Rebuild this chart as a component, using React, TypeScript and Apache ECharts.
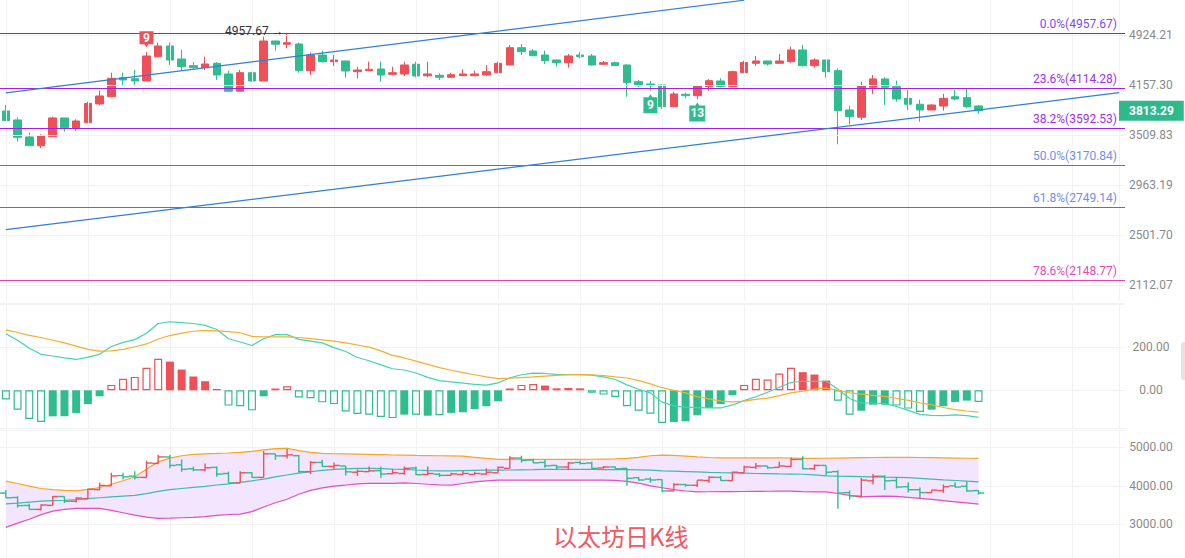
import React, { useEffect, useRef } from 'react';
import * as echarts from 'echarts';

// ---------- data ----------
const categories = Array.from({ length: 96 }, (_, i) => `D${i + 1}`);

// [open, close, low, high]
const ethDaily: number[][] = [
  [3810, 3687, 3683, 3888], [3696, 3485, 3434, 3730], [3489, 3387, 3387, 3541], [3387, 3501, 3358, 3521],
  [3492, 3721, 3492, 3738], [3721, 3600, 3553, 3721], [3597, 3683, 3564, 3704], [3662, 3910, 3654, 3932],
  [3902, 4009, 3884, 4082], [3999, 4256, 3999, 4338], [4265, 4232, 4161, 4338], [4251, 4218, 4161, 4378],
  [4218, 4591, 4218, 4651], [4580, 4749, 4570, 4804], [4749, 4529, 4453, 4804], [4544, 4428, 4363, 4685],
  [4443, 4413, 4378, 4498], [4413, 4468, 4378, 4580], [4478, 4304, 4232, 4498], [4319, 4074, 4074, 4368],
  [4074, 4338, 4074, 4378], [4338, 4218, 4208, 4353], [4218, 4830, 4218, 4901], [4830, 4777, 4674, 4830],
  [4777, 4803, 4712, 4957.67], [4781, 4368, 4338, 4803], [4368, 4606, 4304, 4643], [4606, 4503, 4488, 4674],
  [4503, 4529, 4438, 4606], [4514, 4363, 4265, 4514], [4353, 4378, 4256, 4427], [4368, 4388, 4368, 4503],
  [4393, 4304, 4208, 4503], [4314, 4338, 4304, 4427], [4319, 4453, 4290, 4503], [4463, 4290, 4271, 4503],
  [4294, 4319, 4271, 4503], [4300, 4271, 4232, 4329], [4271, 4309, 4271, 4338], [4294, 4319, 4290, 4388],
  [4294, 4319, 4290, 4368], [4304, 4353, 4290, 4453], [4338, 4478, 4338, 4503], [4453, 4722, 4453, 4765],
  [4722, 4659, 4606, 4781], [4669, 4595, 4591, 4701], [4606, 4518, 4468, 4674], [4529, 4488, 4427, 4539],
  [4488, 4591, 4413, 4622], [4606, 4580, 4555, 4649], [4591, 4453, 4443, 4622], [4463, 4488, 4453, 4514],
  [4488, 4443, 4443, 4503], [4453, 4194, 3999, 4463], [4208, 4151, 4129, 4232], [4175, 4151, 4082, 4218],
  [4161, 3866, 3832, 4161], [3866, 4036, 3866, 4068], [4032, 4013, 3977, 4054], [4013, 4147, 3968, 4147],
  [4137, 4222, 4082, 4246], [4218, 4137, 4129, 4256], [4137, 4353, 4129, 4368], [4338, 4490, 4338, 4518],
  [4478, 4514, 4438, 4591], [4514, 4468, 4443, 4514], [4478, 4514, 4478, 4622], [4503, 4685, 4488, 4738],
  [4685, 4443, 4428, 4765], [4443, 4529, 4413, 4555], [4529, 4353, 4265, 4529], [4368, 3814, 3403, 4403],
  [3823, 3738, 3640, 3875], [3730, 4147, 3696, 4207], [4129, 4247, 4036, 4304], [4247, 4129, 3888, 4271],
  [4137, 3968, 3932, 4222], [3977, 3898, 3823, 4091], [3898, 3823, 3674, 3959], [3823, 3888, 3823, 3898],
  [3875, 3977, 3814, 4036], [3999, 3968, 3955, 4091], [3986, 3866, 3845, 4115], [3875, 3813.29, 3772, 3888],
];

const macdHist = [
  -43, -90, -133, -147, -121, -121, -105, -64, -28, 25, 53, 62, 104, 146, 133, 96, 64, 42, 6, -71,
  -74, -93, -28, 8, 19, -33, -37, -56, -64, -98, -110, -113, -124, -129, -113, -113, -118, -116, -105, -102,
  -87, -74, -51, 8, 25, 29, 22, 9, 11, 9, -12, -20, -31, -74, -95, -109, -152, -147, -144, -116,
  -82, -64, -23, 25, 53, 50, 78, 104, 84, 73, 45, -48, -113, -95, -67, -67, -71, -85, -101, -90,
  -74, -54, -48, -54,
];
const macdHollow = [
  1, 1, 1, 1, 0, 0, 0, 0, 0, 1, 1, 1, 1, 1, 0, 0, 0, 0, 0, 1,
  1, 1, 0, 0, 1, 1, 1, 1, 1, 1, 1, 1, 1, 1, 0, 1, 0, 1, 0, 0,
  0, 0, 0, 0, 1, 1, 0, 0, 1, 0, 1, 1, 1, 1, 1, 1, 1, 0, 0, 0,
  0, 0, 0, 1, 1, 1, 1, 1, 0, 0, 0, 1, 1, 0, 0, 0, 1, 1, 1, 0,
  0, 0, 0, 1,
];
const macdDif = [
  262, 232, 195, 167, 159, 150, 143, 154, 167, 203, 222, 235, 265, 310, 318, 314, 310, 301, 282, 239,
  224, 208, 239, 258, 258, 236, 228, 220, 198, 180, 152, 137, 118, 100, 94, 80, 60, 45, 39, 33,
  27, 24, 34, 58, 72, 80, 78, 74, 73, 73, 70, 62, 50, 25, 5, -12, -55, -72, -78, -80,
  -82, -82, -68, -48, -30, -9, 14, 36, 42, 42, 42, 5, -38, -59, -59, -62, -75, -93, -112, -116,
  -118, -114, -118, -126,
];
const macdDea = [
  280, 268, 255, 245, 232, 220, 205, 190, 182, 183, 190, 202, 215, 238, 254, 265, 274, 278, 276, 272,
  267, 250, 248, 248, 248, 245, 240, 234, 228, 220, 210, 200, 183, 162, 150, 135, 120, 105, 93, 82,
  72, 62, 54, 56, 59, 62, 66, 69, 72, 73, 72, 68, 62, 57, 45, 30, 12, 0, -12, -30,
  -40, -50, -54, -50, -42, -36, -25, -12, -4, 5, 10, 0, -12, -18, -24, -28, -37, -47, -58, -68,
  -80, -90, -96, -101,
];

const bollUpper = [
  4120, 4060, 3990, 3930, 3900, 3880, 3870, 3905, 3955, 4040, 4130, 4234, 4430, 4623, 4720, 4780, 4815, 4830, 4840, 4852,
  4870, 4895, 4935, 4965, 4970, 4915, 4870, 4840, 4832, 4828, 4824, 4818, 4810, 4800, 4797, 4790, 4785, 4780, 4775, 4771,
  4740, 4710, 4686, 4686, 4686, 4686, 4686, 4686, 4686, 4688, 4690, 4695, 4700, 4711, 4740, 4780, 4797, 4790, 4770, 4750,
  4735, 4727, 4727, 4727, 4726, 4725, 4724, 4722, 4711, 4711, 4715, 4720, 4725, 4730, 4735, 4737, 4737, 4737, 4735, 4730,
  4725, 4720, 4715, 4711,
];
const bollMid = [
  3530, 3550, 3575, 3600, 3615, 3625, 3640, 3665, 3690, 3710, 3730, 3751, 3795, 3855, 3900, 3930, 3960, 3985, 4020, 4050,
  4090, 4130, 4175, 4230, 4280, 4330, 4365, 4400, 4426, 4440, 4450, 4452, 4445, 4432, 4426, 4410, 4395, 4390, 4390, 4395,
  4400, 4405, 4408, 4410, 4415, 4420, 4426, 4426, 4426, 4426, 4424, 4422, 4420, 4418, 4415, 4405, 4390, 4380, 4370, 4360,
  4350, 4342, 4336, 4328, 4320, 4314, 4308, 4305, 4300, 4285, 4260, 4250, 4245, 4238, 4230, 4222, 4218, 4210, 4195, 4175,
  4155, 4138, 4120, 4104,
];
const bollLower = [
  2920, 3030, 3130, 3250, 3343, 3390, 3413, 3413, 3413, 3360, 3300, 3240, 3185, 3153, 3160, 3170, 3179, 3200, 3230, 3255,
  3265, 3330, 3450, 3560, 3650, 3780, 3880, 3945, 3992, 4020, 4050, 4062, 4062, 4062, 4075, 4060, 4040, 4025, 4018, 4060,
  4100, 4130, 4148, 4148, 4148, 4148, 4148, 4148, 4148, 4148, 4148, 4148, 4140, 4115, 4070, 4000, 3950, 3900, 3865, 3844,
  3846, 3848, 3850, 3852, 3855, 3858, 3860, 3862, 3850, 3844, 3844, 3800, 3750, 3714, 3725, 3733, 3725, 3700, 3675, 3645,
  3615, 3585, 3555, 3525,
];

const fibLabels = ['0.0%', '23.6%', '38.2%', '50.0%', '61.8%', '78.6%'];
const fibPrices = [4957.67, 4114.28, 3592.53, 3170.84, 2749.14, 2148.77];
const fibLineColors = ['#6b2ee0', '#a41ef0', '#a41ef0', '#3d7bdc', '#3d7bdc', '#e53fb5'];
const fibTextColors = ['#7a4cf0', '#a030ee', '#a030ee', '#6e8ff0', '#6e8ff0', '#e04cb8'];

const priceTicks = [4924.21, 4157.3, 3509.83, 2963.19, 2501.7, 2112.07];
const lastPrice = 3813.29;
const highMark = { index: 24, price: 4957.67, text: '4957.67 →' };
const tdMarks = [
  { index: 12, text: '9', below: false },
  { index: 55, text: '9', below: true },
  { index: 59, text: '13', below: true },
];
// trend lines: [[index, price], [index, price]]
const trendLines = [
  [[0, 4052], [63, 5546]],
  [[0, 2549], [95, 4054]],
];
const vGridIdx = [0, 7, 14, 21, 28, 35, 42, 49, 56, 63, 70, 77, 84, 91, 95];
const titleText = '以太坊日K线';

// ---------- styles ----------
const RED = '#ef5058';
const GREEN = '#2fbd8e';
const GRID_LINE = '#f2f2f2';
const AXIS_TEXT = '#8a8a8a';

function makeVLines() {
  return vGridIdx.map((i) => ({
    xAxis: i,
    lineStyle: { color: GRID_LINE, width: 1, type: 'solid', opacity: 1 },
    label: { show: false },
  }));
}

function buildOption(): any {
  const gridLeft = -2;
  const gridWidth = 1127;

  const xAxisBase = (g: number) => ({
    type: 'category',
    gridIndex: g,
    data: categories,
    boundaryGap: true,
    axisLine: { show: false },
    axisTick: { show: false },
    axisLabel: { show: false },
    splitLine: { show: false },
  });

  const mainMarkLines: any[] = [
    ...makeVLines(),
    ...priceTicks.map((p) => ({
      yAxis: p,
      lineStyle: { color: GRID_LINE, width: 1, type: 'solid' },
      label: { show: true, position: 'end', formatter: p.toFixed(2), color: AXIS_TEXT, fontSize: 12, distance: 4 },
    })),
    ...fibPrices.map((p, k) => ({
      yAxis: p,
      lineStyle: { color: fibLineColors[k], width: 1.2, type: 'solid' },
      label: {
        show: true,
        position: 'insideEndTop',
        formatter: `${fibLabels[k]}(${p.toFixed(2)})`,
        color: fibTextColors[k],
        fontSize: 12,
        distance: [8, 3],
      },
    })),
    ...trendLines.map(([a, b]) => [
      { coord: a, lineStyle: { color: '#2f7fd8', width: 1.2, type: 'solid' }, label: { show: false } },
      { coord: b, lineStyle: { color: '#2f7fd8', width: 1.2, type: 'solid' }, label: { show: false } },
    ]),
    {
      yAxis: lastPrice,
      lineStyle: { color: 'rgba(255,255,255,0)', width: 1, type: 'solid' },
      label: {
        show: true,
        position: 'end',
        formatter: lastPrice.toFixed(2),
        color: '#ffffff',
        backgroundColor: '#2fb98b',
        padding: [4, 10, 4, 10],
        fontWeight: 'bold',
        fontSize: 12,
        distance: -6,
      },
    },
  ];

  const tdPoints = tdMarks.map((m) => {
    const d = ethDaily[m.index];
    const up = !m.below;
    const w = m.text.length > 1 ? 16 : 14;
    return {
      coord: [m.index, up ? d[3] : d[2]],
      symbol: up
        ? `path://M0,0 H${w} V13 H${w / 2 + 2} L${w / 2},16 L${w / 2 - 2},13 H0 Z`
        : `path://M0,3 H${w / 2 - 2} L${w / 2},0 L${w / 2 + 2},3 H${w} V19 H0 Z`,
      symbolSize: up ? [w, 16] : [w, 19],
      symbolOffset: up ? [0, -13] : [0, 13],
      itemStyle: { color: up ? RED : GREEN },
      label: {
        show: true,
        position: 'inside',
        formatter: m.text,
        color: '#fff',
        fontSize: 12,
        fontWeight: 'bold',
        offset: up ? [0, -1.5] : [0, 1.5],
      },
    };
  });

  const highPoint = {
    coord: [highMark.index, highMark.price],
    symbol: 'circle',
    symbolSize: 1,
    itemStyle: { color: 'rgba(0,0,0,0)' },
    label: { show: true, position: 'left', distance: 3, formatter: highMark.text, color: '#333', fontSize: 12, offset: [0, -2] },
  };

  const histData = macdHist.map((v, i) => {
    const col = v >= 0 ? RED : GREEN;
    const hollow = macdHollow[i] === 1;
    return {
      value: v,
      itemStyle: hollow
        ? { color: 'rgba(255,255,255,0)', borderColor: col, borderWidth: 1.2 }
        : { color: col, borderColor: col, borderWidth: 0 },
    };
  });

  const bollWidth = bollUpper.map((u, i) => u - bollLower[i]);

  return {
    animation: false,
    textStyle: { fontFamily: 'Roboto, "Noto Sans", sans-serif' },
    title: {
      text: titleText,
      left: 548,
      top: 518,
      textStyle: { color: '#f4575f', fontSize: 24, fontWeight: 'normal', fontFamily: '"Noto Sans CJK SC", sans-serif' },
    },
    grid: [
      { left: gridLeft, width: gridWidth, top: 0, height: 301 },
      { left: gridLeft, width: gridWidth, top: 303, height: 125 },
      { left: gridLeft, width: gridWidth, top: 430, height: 128 },
    ],
    xAxis: [xAxisBase(0), xAxisBase(1), xAxisBase(2)],
    yAxis: [
      {
        type: 'log',
        gridIndex: 0,
        min: 2000.7,
        max: 5550,
        position: 'right',
        axisLine: { show: false },
        axisTick: { show: false },
        axisLabel: { show: false },
        splitLine: { show: false },
      },
      {
        type: 'value',
        gridIndex: 1,
        min: -175,
        max: 405,
        splitNumber: 3,
        position: 'right',
        axisLine: { show: false },
        axisTick: { show: false },
        axisLabel: {
          formatter: (v: number) => (v === 0 || v === 200 ? v.toFixed(2) : ''),
          color: AXIS_TEXT,
          fontSize: 12,
          align: 'center',
          margin: 26,
        },
        splitLine: { show: true, lineStyle: { color: GRID_LINE } },
      },
      {
        type: 'value',
        gridIndex: 2,
        min: 2125,
        max: 5449,
        splitNumber: 3,
        position: 'right',
        axisLine: { show: false },
        axisTick: { show: false },
        axisLabel: {
          formatter: (v: number) => (v % 1000 === 0 ? v.toFixed(2) : ''),
          color: AXIS_TEXT,
          fontSize: 12,
          align: 'center',
          margin: 26,
        },
        splitLine: { show: true, lineStyle: { color: GRID_LINE } },
      },
    ],
    graphic: [
      { type: 'rect', shape: { x: 1181, y: 342, width: 10, height: 38, r: 3 }, style: { fill: '#e4e4e4' } },
    ],
    series: [
      {
        name: 'ETH',
        type: 'candlestick',
        xAxisIndex: 0,
        yAxisIndex: 0,
        barWidth: 8,
        data: ethDaily,
        itemStyle: { color: RED, color0: GREEN, borderColor: RED, borderColor0: GREEN, borderWidth: 1 },
        markLine: { silent: true, symbol: ['none', 'none'], animation: false, data: mainMarkLines },
        markPoint: { silent: true, animation: false, data: [highPoint, ...tdPoints] },
      },
      {
        name: 'MACD',
        type: 'bar',
        xAxisIndex: 1,
        yAxisIndex: 1,
        barWidth: 8,
        data: histData,
        markLine: {
          silent: true,
          z: 0,
          symbol: ['none', 'none'],
          lineStyle: { color: GRID_LINE, width: 1, type: 'solid' },
          data: makeVLines(),
        },
      },
      {
        name: 'DIF',
        type: 'line',
        xAxisIndex: 1,
        yAxisIndex: 1,
        data: macdDif,
        symbol: 'none',
        lineStyle: { color: '#43d3b5', width: 1.2 },
        z: 3,
      },
      {
        name: 'DEA',
        type: 'line',
        xAxisIndex: 1,
        yAxisIndex: 1,
        data: macdDea,
        symbol: 'none',
        lineStyle: { color: '#f7ae2c', width: 1.2 },
        z: 3,
      },
      {
        name: 'BOLL LB',
        type: 'line',
        xAxisIndex: 2,
        yAxisIndex: 2,
        stack: 'band',
        data: bollLower,
        symbol: 'none',
        lineStyle: { color: '#e54cc0', width: 1.2 },
        z: 2,
        markLine: {
          silent: true,
          z: 0,
          symbol: ['none', 'none'],
          lineStyle: { color: GRID_LINE, width: 1, type: 'solid' },
          data: makeVLines(),
        },
      },
      {
        name: 'BOLL fill',
        type: 'line',
        xAxisIndex: 2,
        yAxisIndex: 2,
        stack: 'band',
        data: bollWidth,
        symbol: 'none',
        lineStyle: { opacity: 0 },
        areaStyle: { color: '#f3e5fd', opacity: 1 },
        z: 1,
      },
      {
        name: 'BOLL UB',
        type: 'line',
        xAxisIndex: 2,
        yAxisIndex: 2,
        data: bollUpper,
        symbol: 'none',
        lineStyle: { color: '#f5a524', width: 1.2 },
        z: 2,
      },
      {
        name: 'BOLL MB',
        type: 'line',
        xAxisIndex: 2,
        yAxisIndex: 2,
        data: bollMid,
        symbol: 'none',
        lineStyle: { color: '#3cbab0', width: 1.2 },
        z: 2,
      },
      {
        name: 'OHLC',
        type: 'custom',
        xAxisIndex: 2,
        yAxisIndex: 2,
        z: 3,
        encode: { x: 0, y: [1, 2, 3, 4] },
        data: ethDaily.map((d, i) => [i, d[0], d[1], d[2], d[3]]),
        renderItem: (params: any, api: any) => {
          const idx = api.value(0);
          const o = api.value(1);
          const c = api.value(2);
          const l = api.value(3);
          const h = api.value(4);
          const pO = api.coord([idx, o]);
          const pC = api.coord([idx, c]);
          const pL = api.coord([idx, l]);
          const pH = api.coord([idx, h]);
          const half = api.size([1, 0])[0] / 2;
          const col = c >= o ? RED : GREEN;
          const st = { stroke: col, lineWidth: 1.4 };
          return {
            type: 'group',
            children: [
              { type: 'line', shape: { x1: pO[0], y1: pH[1], x2: pO[0], y2: pL[1] }, style: st },
              { type: 'line', shape: { x1: pO[0] - half, y1: pO[1], x2: pO[0], y2: pO[1] }, style: st },
              { type: 'line', shape: { x1: pC[0], y1: pC[1], x2: pC[0] + half, y2: pC[1] }, style: st },
            ],
          };
        },
      },
    ],
  };
}

export default function App() {
  const ref = useRef<HTMLDivElement>(null);
  useEffect(() => {
    if (!ref.current) return;
    const chart = echarts.init(ref.current, null, { renderer: 'svg' });
    chart.setOption(buildOption());
    return () => chart.dispose();
  }, []);
  return (
    <div
      ref={ref}
      style={{ position: 'fixed', left: 0, top: 0, width: 1185, height: 558, background: '#fff' }}
    />
  );
}
